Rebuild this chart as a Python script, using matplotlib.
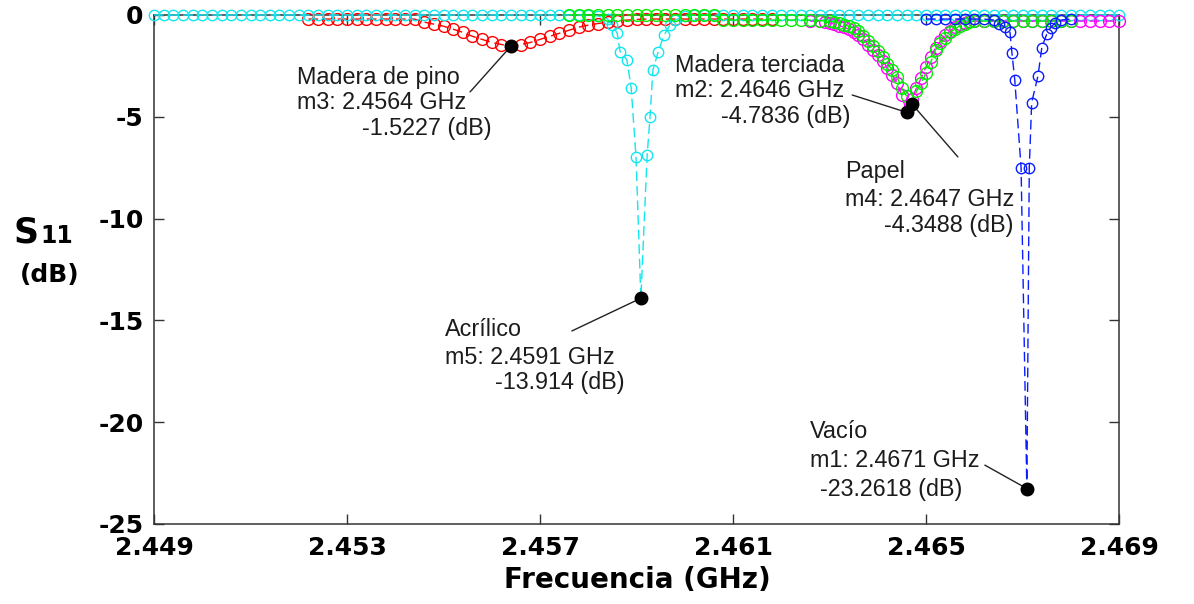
import matplotlib
matplotlib.use("Agg")
import matplotlib.pyplot as plt

# ---------------- data (frequency in GHz, S11 in dB) ----------------
acr_f = [
    2.4490, 2.4492, 2.4494, 2.4496, 2.4498, 2.4500, 2.4502, 2.4504, 2.4506, 2.4508,
    2.4510, 2.4512, 2.4514, 2.4516, 2.4518, 2.4520, 2.4522, 2.4524, 2.4526, 2.4528,
    2.4530, 2.4532, 2.4534, 2.4536, 2.4538, 2.4540, 2.4542, 2.4544, 2.4546, 2.4548,
    2.4550, 2.4552, 2.4554, 2.4556, 2.4558, 2.4560, 2.4562, 2.4564, 2.4566, 2.4568,
    2.4570, 2.4572, 2.4574, 2.4576, 2.4578, 2.4580, 2.4582, 2.4584, 2.4585, 2.4586,
    2.45866, 2.4588, 2.45889, 2.45899, 2.45909, 2.45922, 2.45928, 2.45934, 2.45945, 2.45957,
    2.45969, 2.4598, 2.4600, 2.4602, 2.4604, 2.4606, 2.4608, 2.4610, 2.4612, 2.4614,
    2.4616, 2.4618, 2.4620, 2.4622, 2.4624, 2.4626, 2.4628, 2.4630, 2.4632, 2.4634,
    2.4636, 2.4638, 2.4640, 2.4642, 2.4644, 2.4646, 2.4648, 2.4650, 2.4652, 2.4654,
    2.4656, 2.4658, 2.4660, 2.4662, 2.4664, 2.4666, 2.4668, 2.4670, 2.4672, 2.4674,
    2.4676, 2.4678, 2.4680, 2.4682, 2.4684, 2.4686, 2.4688, 2.4690,
]
acr_db = [
    0.0, 0.0, 0.0, 0.0, 0.0, 0.0, 0.0, 0.0, 0.0, 0.0,
    0.0, 0.0, 0.0, 0.0, 0.0, 0.0, 0.0, 0.0, 0.0, 0.0,
    0.0, 0.0, 0.0, 0.0, 0.0, 0.0, 0.0, 0.0, 0.0, 0.0,
    0.0, 0.0, 0.0, 0.0, 0.0, 0.0, 0.0, 0.0, 0.0, 0.0,
    0.0, 0.0, 0.0, 0.0, 0.0, 0.0, -0.05, -0.2, -0.5, -0.9,
    -1.8, -2.2, -3.6, -7.0, -13.914, -6.9, -5.0, -2.7, -1.8, -1.0,
    -0.5, -0.25, -0.05, 0.0, 0.0, 0.0, 0.0, 0.0, 0.0, 0.0,
    0.0, 0.0, 0.0, 0.0, 0.0, 0.0, 0.0, 0.0, 0.0, 0.0,
    0.0, 0.0, 0.0, 0.0, 0.0, 0.0, 0.0, 0.0, 0.0, 0.0,
    0.0, 0.0, 0.0, 0.0, 0.0, 0.0, 0.0, 0.0, 0.0, 0.0,
    0.0, 0.0, 0.0, 0.0, 0.0, 0.0, 0.0, 0.0,
]

pino_f = [
    2.4522, 2.4524, 2.4526, 2.4528, 2.4530, 2.4532, 2.4534, 2.4536, 2.4538, 2.4540,
    2.4542, 2.4544, 2.4546, 2.4548, 2.4550, 2.4552, 2.4554, 2.4556, 2.4558, 2.4560,
    2.4562, 2.4564, 2.4566, 2.4568, 2.4570, 2.4572, 2.4574, 2.4576, 2.4578, 2.4580,
    2.4582, 2.4584, 2.4586, 2.4588, 2.4590, 2.4592, 2.4594, 2.4596, 2.4598, 2.4600,
    2.4602, 2.4604, 2.4606, 2.4608, 2.4610, 2.4612, 2.4614, 2.4616, 2.4618,
]
pino_db = [
    -0.2, -0.2, -0.2, -0.2, -0.2, -0.2, -0.2, -0.2, -0.2, -0.2,
    -0.2, -0.2, -0.35, -0.45, -0.55, -0.7, -0.85, -1.05, -1.2, -1.35,
    -1.45, -1.5227, -1.45, -1.35, -1.2, -1.05, -0.9, -0.75, -0.6, -0.5,
    -0.42, -0.35, -0.3, -0.25, -0.22, -0.2, -0.2, -0.2, -0.2, -0.2,
    -0.2, -0.2, -0.2, -0.2, -0.2, -0.2, -0.2, -0.2, -0.2,
]

papel_f = [
    2.4576, 2.4578, 2.4580, 2.4582, 2.4584, 2.4586, 2.4588, 2.4590, 2.4592, 2.4594,
    2.4596, 2.4598, 2.4600, 2.4602, 2.4604, 2.4606, 2.4608, 2.4610, 2.4612, 2.4614,
    2.4616, 2.4618, 2.4620, 2.4622, 2.4624, 2.4626, 2.4628, 2.4630, 2.4631, 2.4632,
    2.4633, 2.4634, 2.4635, 2.4636, 2.4637, 2.4638, 2.4639, 2.4640, 2.4641, 2.4642,
    2.4643, 2.4644, 2.4645, 2.4646, 2.4647, 2.4648, 2.4649, 2.4650, 2.4651, 2.4652,
    2.4653, 2.4654, 2.4655, 2.4656, 2.4657, 2.4658, 2.4659, 2.4660, 2.4662, 2.4664,
    2.4666, 2.4668, 2.4670, 2.4672, 2.4674, 2.4676, 2.4678, 2.4680,
]
papel_db = [
    0.0, 0.0, 0.0, 0.0, 0.0, 0.0, 0.0, 0.0, 0.0, 0.0,
    0.0, 0.0, 0.0, 0.0, 0.0, 0.0, -0.25, -0.25, -0.25, -0.25,
    -0.25, -0.25, -0.25, -0.25, -0.25, -0.25, -0.28, -0.3, -0.35, -0.4,
    -0.48, -0.56, -0.64, -0.8, -1.05, -1.3, -1.5, -1.75, -2.05, -2.4,
    -2.7, -3.05, -3.6, -4.0, -4.3488, -3.75, -3.35, -2.85, -2.3, -1.7,
    -1.4, -1.15, -0.85, -0.7, -0.52, -0.42, -0.35, -0.3, -0.3, -0.3,
    -0.3, -0.3, -0.3, -0.3, -0.3, -0.3, -0.3, -0.3,
]

terc_f = [
    2.4626, 2.4628, 2.4629, 2.4630, 2.4631, 2.4632, 2.4633, 2.4634, 2.4635, 2.4636,
    2.4637, 2.4638, 2.4639, 2.4640, 2.4641, 2.4642, 2.4643, 2.4644, 2.4645, 2.4646,
    2.4647, 2.4648, 2.4649, 2.4650, 2.4651, 2.4652, 2.4653, 2.4654, 2.4655, 2.4656,
    2.4657, 2.4658, 2.4659, 2.4660, 2.4662, 2.4664, 2.4666, 2.4668, 2.4670, 2.4672,
    2.4674, 2.4676, 2.4678, 2.4680, 2.4682, 2.4684, 2.4686, 2.4688, 2.4690,
]
terc_db = [
    -0.3, -0.3, -0.33, -0.38, -0.45, -0.52, -0.6, -0.7, -0.82, -1.0,
    -1.2, -1.45, -1.7, -1.95, -2.25, -2.6, -2.95, -3.35, -3.95, -4.7836,
    -4.15, -3.6, -3.1, -2.55, -2.05, -1.6, -1.3, -1.0, -0.78, -0.6,
    -0.45, -0.37, -0.32, -0.3, -0.3, -0.3, -0.3, -0.3, -0.3, -0.3,
    -0.3, -0.3, -0.3, -0.3, -0.3, -0.3, -0.3, -0.3, -0.3,
]

vacio_f = [
    2.4650, 2.4652, 2.4654, 2.4656, 2.4658, 2.4660, 2.4662, 2.46640, 2.46652, 2.46664,
    2.46674, 2.46678, 2.46684, 2.46697, 2.46709, 2.46714, 2.46719, 2.46732, 2.46740, 2.46750,
    2.46758, 2.46768, 2.4678, 2.4680,
]
vacio_db = [
    -0.2, -0.2, -0.2, -0.2, -0.2, -0.2, -0.2, -0.25, -0.45, -0.6,
    -0.85, -1.85, -3.2, -7.5, -23.2618, -7.5, -4.3, -3.0, -1.6, -0.95,
    -0.62, -0.38, -0.25, -0.2,
]

# marker readouts
mk_names = ["Madera de pino", "Acrílico", "Madera terciada", "Papel", "Vacío"]
mk_ids = ["m3", "m5", "m2", "m4", "m1"]
mk_f = [2.4564, 2.4591, 2.4646, 2.4647, 2.4671]
mk_db = [-1.5227, -13.914, -4.7836, -4.3488, -23.2618]
mk_db_txt = ["-1.5227 (dB)", "-13.914 (dB)", "-4.7836 (dB)", "-4.3488 (dB)", "-23.2618 (dB)"]
# sweep points on which the markers sit
mk_sweep_f = [2.4564, 2.45909, 2.4646, 2.4647, 2.46709]

x_ticks = [2.449, 2.453, 2.457, 2.461, 2.465, 2.469]
x_labels = ["2.449", "2.453", "2.457", "2.461", "2.465", "2.469"]
y_ticks = [-25, -20, -15, -10, -5, 0]
y_labels = ["-25", "-20", "-15", "-10", "-5", "0"]

# ---------------- figure ----------------
fig = plt.figure(figsize=(11.94, 6.04), dpi=100)
ax = fig.add_axes([0.1290, 0.1325, 0.8082, 0.8427])

dash = (0, (7, 3.5))
series = [
    (pino_f, pino_db, "#ff0000", 8.5),
    (acr_f, acr_db, "#12e6ee", 7.5),
    (terc_f, terc_db, "#ff00ff", 8.5),
    (papel_f, papel_db, "#00ee00", 8.5),
    (vacio_f, vacio_db, "#0a1cff", 7.5),
]
for f, s, c, ms in series:
    ax.plot(f, s, linestyle=dash, lw=1.0, color=c, marker="o", ms=ms,
            mfc="none", mec=c, mew=1.0, clip_on=False, zorder=3)

# black marker dots at the readout points
ax.plot(mk_sweep_f, mk_db, linestyle="none", marker="o", ms=9,
        color="black", zorder=5)

txt_kw = dict(family="Liberation Sans", fontsize=16.8, color="#1c1c1c",
              va="center", ha="left", zorder=6)
# (text left, third line left, y of three lines, leader start)
layout = [
    (2.45196, 2.45331, (-3.05, -4.32, -5.60), (2.45555, -3.78)),
    (2.45503, 2.45607, (-15.47, -16.80, -18.07), (2.45766, -15.52)),
    (2.45980, 2.46076, (-2.46, -3.73, -4.99), (2.46347, -3.93)),
    (2.46332, 2.46413, (-7.71, -9.04, -10.36), (2.46566, -6.97)),
    (2.46260, 2.46280, (-20.48, -21.86, -23.33), (2.46622, -22.11)),
]
for i, (x0, x2, ys, (lx, ly)) in enumerate(layout):
    ax.text(x0, ys[0], mk_names[i], **txt_kw)
    ax.text(x0, ys[1], f"{mk_ids[i]}: {mk_f[i]:.4f} GHz", **txt_kw)
    ax.text(x2, ys[2], mk_db_txt[i], **txt_kw)
    ax.annotate("", xy=(mk_sweep_f[i], mk_db[i]), xytext=(lx, ly),
                arrowprops=dict(arrowstyle="-", lw=1.0, color="#222222",
                                shrinkA=0, shrinkB=0), zorder=4)

ax.set_xlim(2.449, 2.469)
ax.set_ylim(-25, 0)
ax.set_xticks(x_ticks)
ax.set_xticklabels(x_labels)
ax.set_yticks(y_ticks)
ax.set_yticklabels(y_labels)
ax.tick_params(direction="in", length=7.2, width=1.0, color="#333333",
               top=True, right=True, labelsize=18, pad=7.5)
ax.tick_params(axis="x", pad=9)
for lab in ax.get_xticklabels() + ax.get_yticklabels():
    lab.set_fontweight("bold")
    lab.set_family("DejaVu Sans")
for sp in ax.spines.values():
    sp.set_color("#333333")
    sp.set_linewidth(1.1)

# axis titles
fig.text(0.011, 0.598, "S", fontsize=25, fontweight="bold", ha="left", va="baseline")
fig.text(0.0335, 0.598, "11", fontsize=17, fontweight="bold", ha="left", va="baseline")
fig.text(0.042, 0.545, "(dB)", fontsize=18, fontweight="bold", ha="center", va="center")
fig.text(0.5335, 0.040, "Frecuencia (GHz)", fontsize=20, fontweight="bold",
         ha="center", va="center")

fig.savefig("out.png", dpi=100)
